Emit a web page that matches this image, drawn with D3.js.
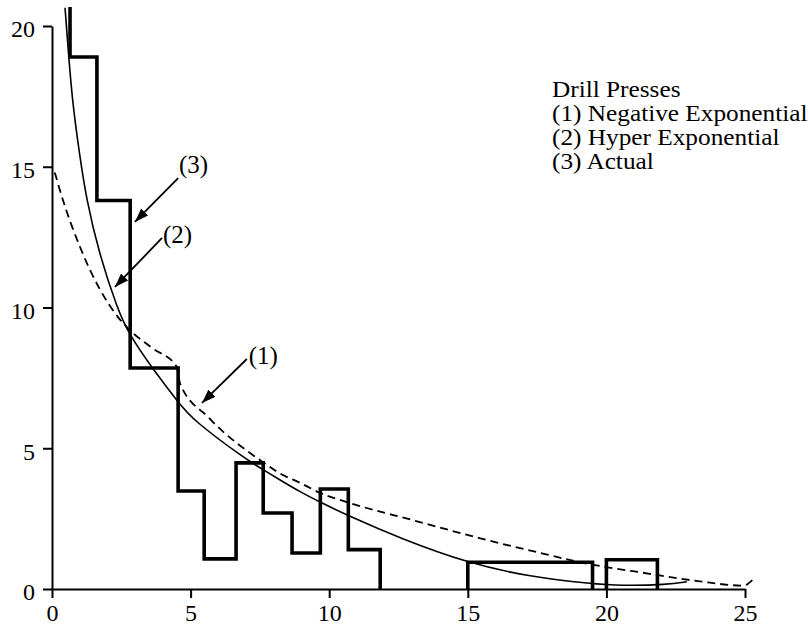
<!DOCTYPE html>
<html>
<head>
<meta charset="utf-8">
<script src="https://cdn.jsdelivr.net/npm/d3@7"></script>
<style>
  html, body { margin: 0; padding: 0; background: #fff; }
  svg { display: block; }
  text { font-family: "Liberation Serif", "Times New Roman", serif; fill: #000; }
</style>
</head>
<body>
<svg id="chart" width="808" height="629"></svg>
<script>
// ---- data ----
const xTicks = [0, 5, 10, 15, 20, 25];
const yTicks = [0, 5, 10, 15, 20];

// (3) Actual – histogram bin edges and heights
const binEdges  = [0.65, 1.62, 2.82, 4.55, 5.49, 6.64, 7.62, 8.66, 9.68, 10.69, 11.84, 15.0, 19.5, 20.0, 21.84];
const binValues = [18.9, 13.8, 7.85, 3.48, 1.07, 4.48, 2.7, 1.28, 3.55, 1.4, 0, 0.95, 0, 1.04];
const firstBinTop = 23; // first bar runs off the top of the chart

// (2) Hyper Exponential – solid curve
const hyperX = [0.47, 0.54, 0.72, 1.0, 1.23, 1.7, 2.38, 2.78, 3.61, 4.58, 5.09, 6.97, 7.6, 8.23, 8.95, 9.68, 10.69, 12.56, 15.0, 17.26, 19.5, 20.5, 22.2, 22.9];
const hyperY = [20.65, 19.75, 17.4, 15.4, 13.9, 11.9, 9.9, 9.05, 7.85, 6.6, 6.0, 4.62, 4.25, 3.87, 3.45, 3.08, 2.6, 1.8, 0.92, 0.43, 0.18, 0.12, 0.15, 0.26];

// (1) Negative Exponential – dashed curve
const negX = [0.1, 0.4, 1.01, 2.38, 2.7, 3.61, 4.5, 4.62, 5.64, 7.62, 8.2, 8.95, 9.68, 10.76, 13.0, 15.45, 17.87, 18.95, 21.5, 23.3, 24.95, 25.27];
const negY = [14.8, 13.8, 12.15, 9.66, 9.3, 8.56, 7.9, 7.3, 6.1, 4.5, 4.12, 3.77, 3.41, 3.05, 2.45, 1.8, 1.22, 0.97, 0.55, 0.28, 0.12, 0.32];

const legendLines = ["Drill Presses", "(1) Negative Exponential", "(2) Hyper Exponential", "(3) Actual"];

// annotation arrows (data units): label, label pos, arrow start, arrow tip
const arrowLabels = ["(3)", "(2)", "(1)"];
const arrowLabelPos = [[4.58, 14.78], [4.0, 12.29], [7.1, 7.99]];
const arrowFrom = [[4.55, 14.6], [3.97, 12.47], [7.03, 8.17]];
const arrowTo = [[2.99, 13.04], [2.27, 10.73], [5.41, 6.61]];

// ---- chart ----
const svg = d3.select("#chart");
const x = d3.scaleLinear().domain([0, 25]).range([52, 745]);
const y = d3.scaleLinear().domain([0, 20]).range([589, 26]);

svg.append("defs").append("clipPath").attr("id", "plotclip")
  .append("rect").attr("x", 50).attr("y", 7).attr("width", 760).attr("height", 590);

svg.append("defs").append("marker")
  .attr("id", "arrowhead").attr("markerUnits", "userSpaceOnUse")
  .attr("markerWidth", 16).attr("markerHeight", 12)
  .attr("refX", 14).attr("refY", 5).attr("orient", "auto")
  .append("path").attr("d", "M0,0 L14,5 L0,10 Z").attr("fill", "#000");

// axes
const tickFont = 24;
const textFont = 25;
const legendFont = 23;
const xAxis = svg.append("g").attr("transform", `translate(0,${y(0)})`)
  .call(d3.axisBottom(x).tickValues(xTicks).tickSize(9).tickPadding(6).tickSizeOuter(0));
const yAxis = svg.append("g").attr("transform", `translate(${x(0)},0)`)
  .call(d3.axisLeft(y).tickValues(yTicks).tickSize(9).tickPadding(8).tickSizeOuter(0));
[xAxis, yAxis].forEach(g => {
  g.selectAll("path, line").attr("stroke", "#000").attr("stroke-width", 2);
  g.selectAll("text").attr("font-size", tickFont)
    .attr("font-family", "Liberation Serif, Times New Roman, serif").attr("fill", "#000");
});
yAxis.selectAll("text").attr("dy", "0.45em");

const plot = svg.append("g").attr("clip-path", "url(#plotclip)");
const line = d3.line().x(d => x(d[0])).y(d => y(d[1]));
const smooth = d3.line().x(d => x(d[0])).y(d => y(d[1])).curve(d3.curveMonotoneX);
const basis = d3.line().x(d => x(d[0])).y(d => y(d[1])).curve(d3.curveBasis);

// curves
plot.append("path")
  .datum(negX.map((v, i) => [v, negY[i]]))
  .attr("d", smooth).attr("fill", "none").attr("stroke", "#000")
  .attr("stroke-width", 1.8).attr("stroke-dasharray", "8,5");

plot.append("path")
  .datum(hyperX.map((v, i) => [v, hyperY[i]]))
  .attr("d", basis).attr("fill", "none").attr("stroke", "#000")
  .attr("stroke-width", 1.6);

// histogram as step segments (zero-height bins leave the axis visible)
const segments = [];
let cur = [[binEdges[0], firstBinTop]];
for (let i = 0; i < binValues.length; i++) {
  const x0 = binEdges[i];
  const x1 = i + 1 < binEdges.length ? binEdges[i + 1] : binEdges[i];
  const v = binValues[i];
  if (v === 0) {
    if (cur.length) { cur.push([x0, 0]); segments.push(cur); }
    cur = [];
    continue;
  }
  if (!cur.length) cur.push([x0, 0]);
  cur.push([x0, v]);
  cur.push([x1, v]);
}
if (cur.length) {
  cur.push([cur[cur.length - 1][0], 0]);
  segments.push(cur);
}
plot.selectAll("path.hist").data(segments).join("path")
  .attr("class", "hist").attr("d", line).attr("fill", "none")
  .attr("stroke", "#000").attr("stroke-width", 3.6).attr("stroke-linejoin", "miter");

// annotation arrows
arrowLabels.forEach((t, i) => {
  svg.append("line")
    .attr("x1", x(arrowFrom[i][0])).attr("y1", y(arrowFrom[i][1]))
    .attr("x2", x(arrowTo[i][0])).attr("y2", y(arrowTo[i][1]))
    .attr("stroke", "#000").attr("stroke-width", 1.8)
    .attr("marker-end", "url(#arrowhead)");
  svg.append("text")
    .attr("x", x(arrowLabelPos[i][0])).attr("y", y(arrowLabelPos[i][1]))
    .attr("font-size", textFont).text(t);
});

// legend (type in the reference is slightly wide, so stretch horizontally)
svg.append("g").attr("transform", "translate(552,0) scale(1.1,1)")
  .selectAll("text").data(legendLines).join("text")
  .attr("x", 0).attr("y", (d, i) => 97 + i * 24)
  .attr("font-size", legendFont).text(d => d);
</script>
</body>
</html>
